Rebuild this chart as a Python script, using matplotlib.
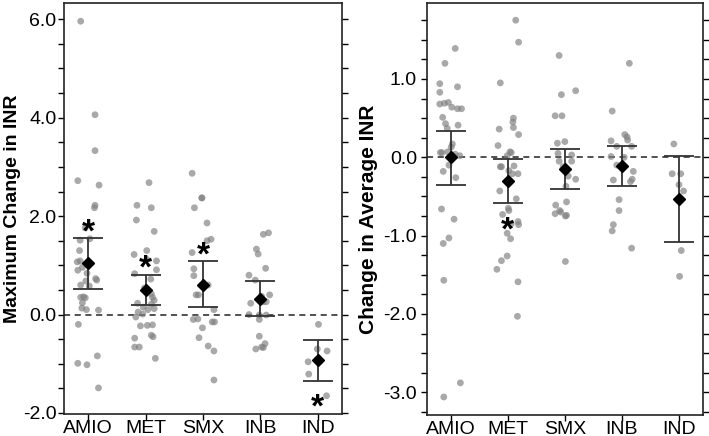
import matplotlib
matplotlib.use('Agg')
import matplotlib.pyplot as plt
from matplotlib.ticker import MultipleLocator, FormatStrFormatter

plt.rcParams['font.family'] = ['Liberation Sans', 'DejaVu Sans']

groups = ['AMIO', 'MET', 'SMX', 'INB', 'IND']

# ---- Panel A: maximum change in INR (values + horizontal jitter)
max_amio = [5.96, 4.06, 3.33, 2.72, 2.63, 2.22, 2.17, 1.76, 1.51, 1.54, 1.30, 1.07, 1.09, 0.90, 0.96,
            0.84, 0.68, 0.73, 0.70, 0.60, 0.58, 0.35, 0.34, 0.36, 0.24, 0.13, 0.10, 0.09, -0.20,
            -0.84, -0.99, -1.02, -1.49]
max_amio_dx = [-0.13, 0.12, 0.12, -0.18, 0.19, 0.12, 0.11, -0.05, -0.14, 0.03, -0.15, -0.19, -0.14, -0.18, -0.10,
               -0.02, -0.04, 0.13, 0.15, -0.13, 0.02, -0.13, -0.05, -0.08, -0.10, -0.11, -0.03, 0.18, -0.17,
               0.16, -0.18, -0.02, 0.18]
max_met = [2.68, 2.22, 2.17, 1.92, 1.69, 1.22, 1.30, 1.09, 1.12, 0.83, 0.91, 0.72, 0.54, 0.42, 0.35,
           0.29, 0.23, 0.21, 0.15, 0.12, 0.10, 0.05, 0.01, -0.05, -0.23, -0.22, -0.21, -0.42, -0.45,
           -0.48, -0.66, -0.66, -0.89]
max_met_dx = [0.06, -0.15, 0.10, -0.16, 0.15, -0.20, 0.02, 0.19, 0.02, -0.19, 0.19, 0.09, -0.02, 0.10, 0.12,
              0.15, -0.14, 0.10, -0.04, 0.15, 0.04, -0.13, -0.05, -0.17, -0.09, 0.03, 0.12, 0.10, 0.13,
              -0.19, -0.19, -0.11, 0.17]
max_smx = [2.87, 2.37, 2.37, 2.17, 1.86, 1.26, 1.53, 1.50, 0.93, 0.79, 0.40, 0.40, 0.60, 0.10, -0.10,
           -0.09, -0.27, -0.15, -0.15, -0.47, -0.64, -0.74, -1.33]
max_smx_dx = [-0.19, -0.02, -0.02, -0.15, 0.07, -0.19, 0.14, 0.07, -0.16, -0.16, -0.12, -0.08, 0.09, 0.19, -0.17,
              -0.09, -0.01, 0.16, 0.20, -0.07, 0.09, 0.19, 0.19]
max_inb = [1.66, 1.63, 1.33, 1.23, 0.94, 0.80, 0.70, 0.40, 0.23, 0.37, 0.26, 0.26, 0.00, -0.01, -0.01,
           -0.10, -0.44, -0.59, -0.66, -0.70, -0.67]
max_inb_dx = [0.14, 0.05, -0.07, -0.04, 0.09, -0.20, -0.09, 0.16, -0.17, 0.02, 0.05, 0.10, -0.20, -0.02, 0.10,
              -0.02, -0.02, 0.08, 0.02, -0.08, 0.05]
max_ind = [-0.20, -0.70, -0.74, -0.96, -1.21, -1.65]
max_ind_dx = [0.01, -0.01, 0.16, -0.17, -0.16, 0.15]

max_mean = [1.04, 0.49, 0.61, 0.32, -0.93]
max_ci_low = [0.52, 0.19, 0.16, -0.03, -1.35]
max_ci_high = [1.56, 0.81, 1.08, 0.68, -0.51]
max_star_group = [0, 1, 2, 4]
max_star_y = [1.88, 1.14, 1.41, -1.69]

# ---- Panel B: change in average INR
avg_amio = [1.39, 1.20, 0.94, 0.83, 0.90, 0.68, 0.69, 0.70, 0.64, 0.62, 0.62, 0.51, 0.43, 0.37, 0.41,
            0.17, 0.13, 0.06, 0.06, 0.07, 0.04, 0.02, 0.02, -0.18, -0.10, -0.26, -0.66, -0.79, -1.03,
            -1.10, -1.57, -2.88, -3.06]
avg_amio_dx = [0.08, -0.10, -0.19, -0.19, 0.12, -0.19, -0.11, -0.04, 0.02, 0.12, 0.19, -0.14, -0.09, -0.06, 0.13,
               0.03, 0.01, -0.18, -0.15, -0.05, 0.08, 0.16, 0.03, -0.13, -0.03, 0.09, -0.16, 0.06, -0.03,
               -0.13, -0.12, 0.17, -0.12]
avg_met = [1.75, 1.47, 0.95, 0.36, 0.50, 0.45, 0.38, 0.29, 0.15, 0.07, 0.06, 0.02, -0.12, -0.12, -0.11,
           -0.17, -0.21, -0.21, -0.43, -0.53, -0.65, -0.68, -0.73, -0.82, -0.86, -0.85, -0.97, -1.04,
           -1.26, -1.32, -1.43, -1.59, -2.03]
avg_met_dx = [0.14, 0.19, -0.13, -0.15, 0.10, 0.09, 0.10, 0.19, -0.17, 0.04, 0.06, -0.01, -0.13, -0.11, 0.11,
              0.02, 0.18, 0.08, -0.14, 0.15, 0.01, 0.02, -0.09, 0.18, 0.19, 0.06, -0.01, 0.05,
              -0.01, -0.11, -0.19, 0.18, 0.17]
avg_smx = [1.30, 0.85, 0.80, 0.53, 0.53, 0.20, 0.18, 0.05, 0.03, -0.05, -0.05, -0.12, -0.24, -0.28, -0.37,
           -0.57, -0.61, -0.68, -0.70, -0.72, -0.74, -0.75, -1.33]
avg_smx_dx = [-0.10, 0.19, -0.06, -0.17, -0.05, 0.00, -0.13, -0.12, 0.12, 0.12, -0.10, -0.03, 0.06, 0.19, 0.02,
              0.03, -0.16, -0.09, -0.07, -0.17, 0.03, 0.01, 0.01]
avg_inb = [1.20, 0.59, 0.21, 0.29, 0.26, 0.22, 0.14, 0.14, 0.01, 0.00, -0.10, -0.18, -0.29, -0.31, -0.28,
           -0.54, -0.68, -0.86, -0.94, -1.16]
avg_inb_dx = [0.13, -0.17, -0.19, 0.05, 0.09, 0.10, -0.09, 0.17, -0.19, 0.04, -0.09, 0.20, -0.15, 0.15, 0.18,
              -0.05, -0.05, -0.15, -0.17, 0.17]
avg_ind = [0.17, -0.21, -0.21, -0.35, -0.43, -1.19, -1.52]
avg_ind_dx = [-0.09, -0.12, 0.03, 0.00, 0.08, 0.04, 0.01]

avg_mean = [0.00, -0.30, -0.15, -0.11, -0.53]
avg_ci_low = [-0.36, -0.58, -0.40, -0.37, -1.08]
avg_ci_high = [0.34, -0.02, 0.11, 0.15, 0.02]
avg_star_group = [1]
avg_star_y = [-0.81]

max_points = [(max_amio, max_amio_dx), (max_met, max_met_dx), (max_smx, max_smx_dx),
              (max_inb, max_inb_dx), (max_ind, max_ind_dx)]
avg_points = [(avg_amio, avg_amio_dx), (avg_met, avg_met_dx), (avg_smx, avg_smx_dx),
              (avg_inb, avg_inb_dx), (avg_ind, avg_ind_dx)]

STAR_SIZE = 24


def draw_panel(ax, points, means, lo, hi, star_g, star_y, ypad):
    # zero reference line
    ax.axhline(0, color='#222222', linestyle=(0, (4, 3)), linewidth=1.1, zorder=1)
    # individual patients
    for i, (vals, dx) in enumerate(points):
        xs = [i + d for d in dx]
        ax.scatter(xs, vals, s=24, color='#808080', alpha=0.68, edgecolors='none', zorder=2)
    # mean with 95% CI
    for i in range(len(means)):
        ax.errorbar(i, means[i], yerr=[[means[i] - lo[i]], [hi[i] - means[i]]],
                    fmt='none', ecolor='#333333', elinewidth=1.3, capsize=11, capthick=1.3, zorder=3)
        ax.plot(i, means[i], marker='D', color='black', markersize=6, zorder=4)
    # significance stars; the glyph sits high in the em box, so drop it onto its point
    for g, y in zip(star_g, star_y):
        ax.annotate('*', (g, y), xytext=(0, -0.575 * STAR_SIZE), textcoords='offset points',
                    ha='center', va='baseline', fontsize=STAR_SIZE, fontweight='bold',
                    color='black', zorder=5)
    ax.set_xticks(range(len(groups)))
    ax.set_xticklabels(groups, fontsize=14)
    ax.set_xlim(-0.42, 4.42)
    ax.tick_params(axis='x', length=4, width=1, direction='out', pad=0)
    ax.tick_params(axis='y', which='both', left=True, right=True, length=4, width=1,
                   direction='out', labelsize=14, pad=ypad)
    ax.yaxis.set_major_formatter(FormatStrFormatter('%.1f'))
    for sp in ax.spines.values():
        sp.set_linewidth(1.2)
        sp.set_color('#222222')


fig = plt.figure(figsize=(7.09, 4.36), dpi=100)
ax1 = fig.add_axes([0.0903, 0.0505, 0.3921, 0.9426])
ax2 = fig.add_axes([0.6018, 0.0482, 0.3897, 0.9449])

draw_panel(ax1, max_points, max_mean, max_ci_low, max_ci_high, max_star_group, max_star_y, 1.5)
ax1.set_ylim(-2.02, 6.33)
ax1.yaxis.set_major_locator(MultipleLocator(2))
ax1.yaxis.set_minor_locator(MultipleLocator(0.5))
ax1.set_ylabel('Maximum Change in INR', fontsize=14, fontweight='bold', labelpad=1.5)

draw_panel(ax2, avg_points, avg_mean, avg_ci_low, avg_ci_high, avg_star_group, avg_star_y, 3)
ax2.set_ylim(-3.29, 1.97)
ax2.yaxis.set_major_locator(MultipleLocator(1))
ax2.yaxis.set_minor_locator(MultipleLocator(0.25))
ax2.set_ylabel('Change in Average INR', fontsize=15, fontweight='bold', labelpad=4)
ax2.yaxis.label.set_y(0.475)

fig.savefig('out.png', dpi=100)
